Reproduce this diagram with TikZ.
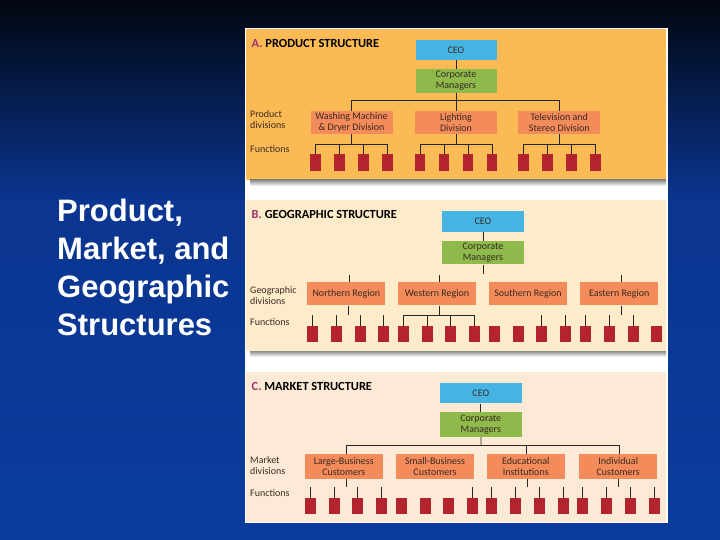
\documentclass[tikz,border=0pt]{standalone}
\usepackage{fontspec}
\setmainfont{Carlito}
\newfontfamily\slidefont{Liberation Sans}
\usetikzlibrary{calc,positioning}

\definecolor{bgtop}{HTML}{02060F}
\definecolor{bgmid}{HTML}{0A3590}
\definecolor{bgbot}{HTML}{0B3C9E}
\definecolor{panelA}{HTML}{FCBA55}
\definecolor{panelB}{HTML}{FDEBC9}
\definecolor{panelC}{HTML}{FCEAD6}
\definecolor{ceoblue}{HTML}{45B4E2}
\definecolor{mgrgreen}{HTML}{8DBA4B}
\definecolor{divsalmon}{HTML}{F38B5A}
\definecolor{fnred}{HTML}{B3242E}
\definecolor{tagpink}{HTML}{A0306E}
\definecolor{boxtext}{HTML}{3A2A22}

\begin{document}
\begin{tikzpicture}[x=1pt,y=-1pt,
	box/.style={inner sep=0pt,align=center,text=boxtext,font=\fontsize{10}{11}\selectfont},
	ceo/.style={box,fill=ceoblue,minimum width=81pt,minimum height=20.5pt},
	mgr/.style={box,fill=mgrgreen,minimum width=81pt,minimum height=24pt},
	div/.style={box,fill=divsalmon,minimum width=78pt,minimum height=23.5pt},
	fn/.style={fill=fnred,inner sep=0pt,minimum width=10.5pt,minimum height=16.6pt},
	lbl/.style={anchor=west,align=left,inner sep=0pt,text=boxtext,font=\fontsize{10}{11}\selectfont},
	ttl/.style={anchor=west,inner sep=0pt,font=\bfseries\fontsize{12.4}{13}\selectfont},
	conn/.style={draw=black!85,line width=0.8pt}
	]

	\useasboundingbox (0,0) rectangle (720,540);
	\shade[top color=bgtop,bottom color=bgmid] (0,0) rectangle (720,200);
	\shade[top color=bgmid,bottom color=bgbot] (0,200) rectangle (720,540);

	\node[anchor=north west,align=left,inner sep=0pt,text=white,font=\slidefont\bfseries\fontsize{31}{38}\selectfont] (title) at (57,198.5) {Product,\\Market, and\\Geographic\\Structures};

	% the three panels
	\fill[white] (245,28) rectangle (668,523);
	\fill[panelA] (246,29) rectangle (666,180);
	\shade[top color=black!45,bottom color=white] (250,180) rectangle (666,186);
	\fill[panelB] (246,200) rectangle (666,351);
	\shade[top color=black!45,bottom color=white] (250,351) rectangle (666,357);
	\fill[panelC] (246,372) rectangle (666,522);

	% A. product structure
	\node[ttl] (ttlA) at (251.5,43) {\textcolor{tagpink}{A.}\ PRODUCT STRUCTURE};
	\node[lbl] (lbdivA) at (250,120) {Product\\divisions};
	\node[lbl] (lbfnA) at (250,149.5) {Functions};

	\node[ceo] (ceoA) at (456,50) {CEO};
	\node[mgr] (mgrA) at (456,81) {Corporate\\Managers};
	\node[div,minimum width=82pt] (prodA1) at (351.5,122.5) {Washing Machine\\\& Dryer Division};
	\node[div,minimum width=82pt] (prodA2) at (456,122.5) {Lighting\\Division};
	\node[div,minimum width=82pt] (prodA3) at (559.3,122.5) {Television and\\Stereo Division};

	\coordinate (busA) at (456,100.7);
	\draw[conn] (ceoA) -- (mgrA);
	\draw[conn] (mgrA) -- (busA);
	\draw[conn] (prodA1) |- (busA) -| (prodA3);
	\draw[conn] (busA) -- (prodA2);

	\foreach \d/\cx in {1/351.5,2/456,3/559.3}{
		\coordinate (fbusA\d) at (\cx,144.7);
		\draw[conn] (prodA\d) -- (fbusA\d);
		\foreach \k/\dx in {1/-36,2/-12,3/12,4/36}
			\node[fn] (fnA\d\k) at (\cx+\dx,162.3) {};
		\draw[conn] (fnA\d1) |- (fbusA\d) -| (fnA\d4);
		\draw[conn] (fnA\d2) |- (fbusA\d) -| (fnA\d3);
	}

	% B. geographic structure
	\node[ttl] (ttlB) at (251.5,214.3) {\textcolor{tagpink}{B.}\ GEOGRAPHIC STRUCTURE};
	\node[lbl] (lbdivB) at (250,295.5) {Geographic\\divisions};
	\node[lbl] (lbfnB) at (250,321.7) {Functions};

	\node[ceo,minimum width=82.6pt] (ceoB) at (483,221.3) {CEO};
	\node[mgr,minimum width=82.6pt,minimum height=23.3pt] (mgrB) at (483,252.7) {Corporate\\Managers};
	\node[div] (geoN) at (346.3,293.7) {Northern Region};
	\node[div] (geoW) at (437,293.7) {Western Region};
	\node[div] (geoS) at (528,293.7) {Southern Region};
	\node[div] (geoE) at (619.2,293.7) {Eastern Region};

	\draw[conn] (ceoB) -- (mgrB);
	\coordinate (busB) at (483,274);
	\draw[conn] (mgrB) -- (busB);
	\coordinate (topN) at (349.3,274.5);
	\coordinate (topW) at (439.3,274.5);
	\coordinate (topE) at (621.7,274.5);
	\draw[conn] (topN) -- (topN |- geoN.north);
	\draw[conn] (topW) -- (topW |- geoW.north);
	\draw[conn] (topE) -- (topE |- geoE.north);

	\foreach \g/\cx in {N/348.3,W/439,S/530,E/621.2}{
		\coordinate (fbusB\g) at (\cx,315.3);
		\foreach \k/\dx in {1/-35.5,2/-11.8,3/11.8,4/35.5}
			\node[fn,minimum width=11pt] (fnB\g\k) at (\cx+\dx,334) {};
	}
	\draw[conn] (fbusBN |- geoN.south) -- (fbusBN);
	\draw[conn] (fbusBE |- geoE.south) -- (fbusBE);
	\draw[conn] (geoW.south -| fbusBW) -- (fbusBW);
	\draw[conn] (fnBW1) |- (fbusBW) -| (fnBW4);
	\draw[conn] (fnBW2) |- (fbusBW) -| (fnBW3);
	\foreach \b in {N1,N2,N3,N4,S3,S4,E1,E2,E3}
		\draw[conn] (fnB\b) -- (fnB\b |- fbusBN);

	% C. market structure
	\node[ttl] (ttlC) at (251.5,386) {\textcolor{tagpink}{C.}\ MARKET STRUCTURE};
	\node[lbl] (lbdivC) at (250,465.5) {Market\\divisions};
	\node[lbl] (lbfnC) at (250,492.7) {Functions};

	\node[ceo,minimum width=81.7pt,minimum height=20.7pt] (ceoC) at (480.8,393) {CEO};
	\node[mgr,minimum width=81.7pt,minimum height=25pt] (mgrC) at (480.8,424.2) {Corporate\\Managers};
	\node[div,minimum height=24.4pt] (mktL) at (343.8,466.5) {Large-Business\\Customers};
	\node[div,minimum height=24.4pt] (mktS) at (435,466.5) {Small-Business\\Customers};
	\node[div,minimum height=24.4pt] (mktE) at (525.8,466.5) {Educational\\Institutions};
	\node[div,minimum height=24.4pt] (mktI) at (618.2,466.5) {Individual\\Customers};

	\draw[conn] (ceoC) -- (mgrC);
	\coordinate (busC) at (481,445.7);
	\coordinate (dropL) at (346,445.7);
	\coordinate (dropE) at (526,445.7);
	\coordinate (dropI) at (619.3,445.7);
	\draw[conn] (mgrC) -- (busC);
	\draw[conn] (dropL |- mktL.north) -- (dropL) -- (dropI) -- (dropI |- mktI.north);
	\draw[conn] (dropE) -- (dropE |- mktE.north);

	\foreach \g/\cx in {L/346,S/437,E/527.5,I/618.5}{
		\coordinate (fbusC\g) at (\cx,486.7);
		\foreach \k/\dx in {1/-35.7,2/-11.8,3/11.8,4/35.7}
			\node[fn,minimum width=11pt] (fnC\g\k) at (\cx+\dx,506) {};
	}
	\draw[conn] (mktL.south -| fbusCL) -- (fbusCL);
	\draw[conn] (mktE.south -| fbusCE) -- (fbusCE);
	\draw[conn] (mktI.south -| fbusCI) -- (fbusCI);
	\foreach \b in {L1,L2,L3,L4,S4,E1,E2,E3,E4,I1,I2,I3,I4}
		\draw[conn] (fnC\b) -- (fnC\b |- fbusCL);

\end{tikzpicture}
\end{document}
